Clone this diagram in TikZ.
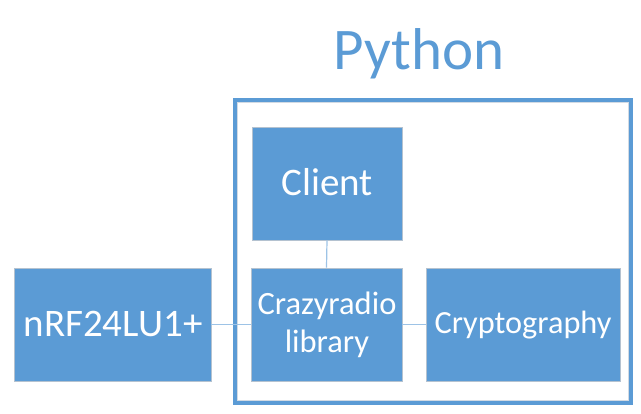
\documentclass[tikz,border=0pt]{standalone}
\usepackage{fontspec}
\setmainfont{Carlito}
\definecolor{boxblue}{HTML}{5B9BD5}
\definecolor{linkblue}{HTML}{9DC3E6}
\definecolor{edgegray}{HTML}{B4C2D0}
\begin{document}
\begin{tikzpicture}[x=1pt,y=-1pt,
  blk/.style={fill=boxblue,draw=edgegray,line width=0.8pt,inner sep=0pt,minimum height=113pt},
  txt/.style={text=white,inner sep=0pt,anchor=base},
  link/.style={draw=linkblue,line width=1.2pt}]
\useasboundingbox (0,0) rectangle (641,414);
% frame
\draw[boxblue,line width=4pt] (234.5,100) rectangle (630.5,403);
\draw[edgegray!60,line width=0.8pt] (237,102.5) rectangle (628,400.5);
\node[text=boxblue,font=\fontsize{59}{62}\selectfont,anchor=base] (py) at (419,70) {Python};
% blocks
\node[blk,minimum width=150pt] (client) at (327,183.5) {};
\node[blk,minimum width=151pt] (crazy) at (326.5,324.5) {};
\node[blk,minimum width=197pt] (nrf) at (112.5,324.5) {};
\node[blk,minimum width=194pt] (crypto) at (523,324.5) {};
% texts
\node[txt,font=\fontsize{39}{42}\selectfont] (clientt) at (327,196) {Client};
\node[txt,font=\fontsize{32.5}{38}\selectfont] (crazyt1) at (327,314.5) {Crazyradio};
\node[txt,font=\fontsize{32.5}{38}\selectfont] (crazyt2) at (327,353) {library};
\node[txt,font=\fontsize{39}{42}\selectfont] (nrft) at (113,337) {nRF24LU1+};
\node[txt,font=\fontsize{32.3}{38}\selectfont] (cryptot) at (523,334) {Cryptography};
% links
\draw[link] (client.south) -- (crazy.north);
\draw[link] (nrf.east) -- (crazy.west);
\draw[link] (crazy.east) -- (crypto.west);
\end{tikzpicture}
\end{document}
